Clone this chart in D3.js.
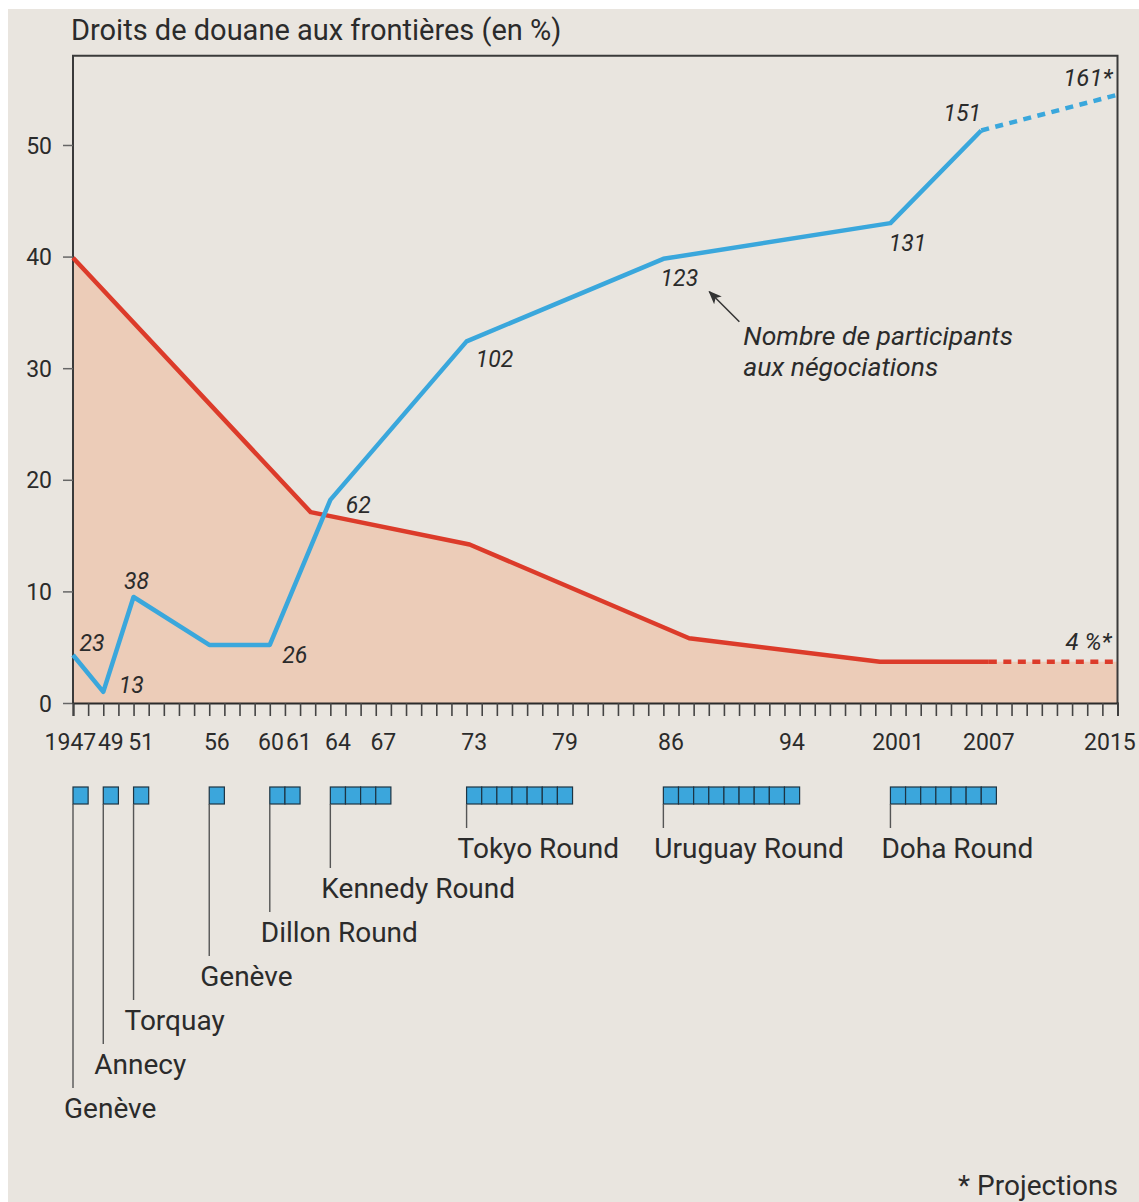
<!DOCTYPE html>
<html>
<head>
<meta charset="utf-8">
<script src="https://cdn.jsdelivr.net/npm/d3@7"></script>
<style>
  body { margin: 0; background: #fff; }
  svg { display: block; font-family: Roboto, "DejaVu Sans", sans-serif; }
</style>
</head>
<body>
<svg id="chart" width="1139" height="1202"></svg>
<script>
// axe des x : annees affichees
var tickYears = [1947, 1949, 1951, 1956, 1960, 1961, 1964, 1967, 1973, 1979, 1986, 1994, 2001, 2007, 2015];
var tickLabels = ["1947", "49", "51", "56", "60", "61", "64", "67", "73", "79", "86", "94", "2001", "2007", "2015"];
var yTicks = [0, 10, 20, 30, 40, 50];

// droits de douane (en %)
var tariffYears = [1947, 1962.7, 1973.2, 1987.7, 2000.3, 2007.5];
var tariffValues = [39.9, 17.1, 14.2, 5.8, 3.7, 3.7];
var tariffProjYears = [2007.5, 2016];
var tariffProjValues = [3.7, 3.7];

var partYears = [1947, 1949, 1951, 1956, 1960, 1964, 1973, 1986, 2001, 2007];
var partHeights = [4.3, 1.0, 9.5, 5.2, 5.2, 18.2, 32.4, 39.8, 43.0, 51.3];
var partLabels = ["23", "13", "38", "", "26", "62", "102", "123", "131", "151"];
var partProjYears = [2007, 2016];
var partProjHeights = [51.3, 54.5];

// cycles de negociations
var roundNames = ["Genève", "Annecy", "Torquay", "Genève", "Dillon Round", "Kennedy Round", "Tokyo Round", "Uruguay Round", "Doha Round"];
var roundStart = [1947, 1949, 1951, 1956, 1960, 1964, 1973, 1986, 2001];
var roundEnd = [1947, 1949, 1951, 1956, 1961, 1967, 1979, 1994, 2007];

var svg = d3.select("#chart");
var ink = "#2b2b2b";
var blue = "#3aa7dc";
var red = "#dc3b2a";

svg.append("rect").attr("x", 8).attr("y", 9).attr("width", 1131).attr("height", 1193).attr("fill", "#e9e5df");

var x = d3.scaleLinear().domain([1947, 2016]).range([73, 1117.5]);
var y = d3.scaleLinear().domain([0, 58]).range([703, 55.7]);

// titre
svg.append("text").attr("x", 71).attr("y", 40).attr("font-size", 29).attr("fill", ink)
    .text("Droits de douane aux frontières (en %)");

// zone sous la courbe des droits
var allTariff = tariffYears.map(function(t, i) { return { t: t, v: tariffValues[i] }; })
    .concat([{ t: 2016, v: tariffProjValues[1] }]);
svg.append("path")
    .datum(allTariff)
    .attr("fill", "#ecccb8")
    .attr("d", d3.area().x(function(d) { return x(d.t); }).y0(y(0)).y1(function(d) { return y(d.v); }));

// cadre
svg.append("path")
    .attr("d", "M" + x(1947) + "," + y(0) + "V" + y(58) + "H" + x(2016) + "V" + y(0))
    .attr("fill", "none").attr("stroke", "#3a3a3a").attr("stroke-width", 2);

// axe y
var yAxis = svg.append("g").attr("transform", "translate(" + x(1947) + ",0)")
    .call(d3.axisLeft(y).tickValues(yTicks).tickSize(10).tickPadding(11).tickFormat(d3.format("d")));
yAxis.select(".domain").remove();
yAxis.selectAll("line").attr("stroke", "#666").attr("stroke-width", 1.5);
yAxis.selectAll("text").attr("font-size", 23).attr("fill", ink).attr("font-family", "Roboto").attr("dy", "0.35em");

// axe x : un trait par annee
var years = d3.range(1947, 2017);
var xAxis = svg.append("g").attr("transform", "translate(0," + y(0) + ")")
    .call(d3.axisBottom(x).tickValues(years).tickSize(13).tickFormat(""));
xAxis.select(".domain").attr("stroke", "#2b2b2b").attr("stroke-width", 2);
xAxis.selectAll("line").attr("stroke", "#444").attr("stroke-width", 1.6);

svg.append("g").selectAll("text")
    .data(tickYears)
    .enter()
    .append("text")
    .attr("x", function(d, i) {
        if (i === 0) return x(1949) - 7;
        if (d === 1960) return x(1961) - 1;
        if (d === 1961) return x(1961) + 1;
        return x(d + 0.5);
    })
    .attr("text-anchor", function(d, i) {
        if (i === 0 || d === 1960) return "end";
        if (d === 1961) return "start";
        return "middle";
    })
    .attr("y", 750)
    .attr("font-size", 23)
    .attr("fill", ink)
    .text(function(d, i) { return tickLabels[i]; });

// courbe des droits
var line = d3.line().x(function(d) { return x(d.t); }).y(function(d) { return y(d.v); });
svg.append("path")
    .datum(tariffYears.map(function(t, i) { return { t: t, v: tariffValues[i] }; }))
    .attr("fill", "none").attr("stroke", red).attr("stroke-width", 4.5).attr("stroke-linejoin", "round")
    .attr("d", line);
svg.append("path")
    .datum(tariffProjYears.map(function(t, i) { return { t: t, v: tariffProjValues[i] }; }))
    .attr("fill", "none").attr("stroke", red).attr("stroke-width", 4.5).attr("stroke-dasharray", "8,6.5")
    .attr("d", line);

// courbe des participants
var parts = partYears.map(function(t, i) { return { t: t, v: partHeights[i], label: partLabels[i] }; });
svg.append("path")
    .datum(parts)
    .attr("fill", "none").attr("stroke", blue).attr("stroke-width", 4.5).attr("stroke-linejoin", "round")
    .attr("d", line);
svg.append("path")
    .datum(partProjYears.map(function(t, i) { return { t: t, v: partProjHeights[i] }; }))
    .attr("fill", "none").attr("stroke", blue).attr("stroke-width", 4.5).attr("stroke-dasharray", "8,6.5")
    .attr("d", line);

// etiquettes : decalage par rapport au point
var labelOffsets = {
    "23": [19, -12], "13": [28, -7], "38": [3, -16], "26": [25, 10], "62": [28, 5],
    "102": [28, 18], "123": [16, 19], "131": [17, 20], "151": [-19, -17]
};
svg.append("g").selectAll("text")
    .data(parts.filter(function(d) { return d.label !== ""; }))
    .enter()
    .append("text")
    .attr("x", function(d) { return x(d.t) + labelOffsets[d.label][0]; })
    .attr("y", function(d) { return y(d.v) + labelOffsets[d.label][1] + 8; })
    .attr("text-anchor", "middle")
    .attr("font-size", 23)
    .attr("font-style", "italic")
    .attr("fill", ink)
    .text(function(d) { return d.label; });

svg.append("text")
    .attr("x", x(2016) - 5).attr("y", y(partProjHeights[1]) - 9)
    .attr("text-anchor", "end").attr("font-size", 24).attr("font-style", "italic").attr("fill", ink)
    .text("161*");
svg.append("text")
    .attr("x", x(2016) - 6).attr("y", y(tariffProjValues[1]) - 12)
    .attr("text-anchor", "end").attr("font-size", 24).attr("font-style", "italic").attr("fill", ink)
    .text("4 %*");

// annotation
var ax = x(1986), ay = y(39.8);
svg.append("defs").append("marker")
    .attr("id", "fleche").attr("viewBox", "0 0 10 10").attr("refX", 9).attr("refY", 5)
    .attr("markerWidth", 9).attr("markerHeight", 9).attr("orient", "auto")
    .append("path").attr("d", "M0,1L10,5L0,9L2.5,5Z").attr("fill", "#333");
svg.append("line")
    .attr("x1", ax + 76).attr("y1", ay + 63).attr("x2", ax + 46).attr("y2", ay + 33)
    .attr("stroke", "#333").attr("stroke-width", 1.5).attr("marker-end", "url(#fleche)");
["Nombre de participants", "aux négociations"].forEach(function(t, i) {
    svg.append("text")
        .attr("x", ax + 80).attr("y", ay + 86 + i * 31)
        .attr("font-size", 26.5).attr("font-style", "italic").attr("fill", ink)
        .text(t);
});

// cycles : une case par annee
var roundLevels = [6, 5, 4, 3, 2, 1, 0, 0, 0];
var boxTop = 787, boxH = 17;
roundNames.forEach(function(name, i) {
    var yrs = d3.range(roundStart[i], roundEnd[i] + 1);
    var g = svg.append("g");
    g.selectAll("rect")
        .data(yrs)
        .enter()
        .append("rect")
        .attr("x", function(d) { return x(d); })
        .attr("y", boxTop)
        .attr("width", function(d) { return x(d + 1) - x(d); })
        .attr("height", boxH)
        .attr("fill", "#3ba6dc")
        .attr("stroke", "#1d3443")
        .attr("stroke-width", 1.2);
    var base = roundLevels[i] === 0 ? 858 : 854 + 44 * roundLevels[i];
    g.append("line")
        .attr("x1", x(roundStart[i])).attr("x2", x(roundStart[i]))
        .attr("y1", boxTop + boxH).attr("y2", base - 30)
        .attr("stroke", "#555").attr("stroke-width", 1.4);
    g.append("text")
        .attr("x", x(roundStart[i]) - 9).attr("y", base)
        .attr("font-size", 28).attr("fill", ink)
        .text(name);
});

svg.append("text").attr("x", 1118).attr("y", 1195).attr("text-anchor", "end")
    .attr("font-size", 28).attr("fill", ink).text("* Projections");
</script>
</body>
</html>
